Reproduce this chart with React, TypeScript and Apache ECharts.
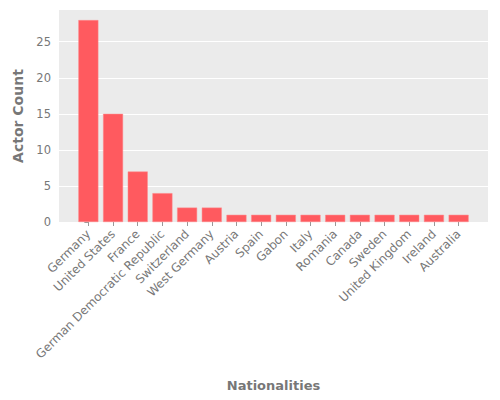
import { useEffect, useRef } from "react";
import * as echarts from "echarts";

const nationalities = [
  "Germany",
  "United States",
  "France",
  "German Democratic Republic",
  "Switzerland",
  "West Germany",
  "Austria",
  "Spain",
  "Gabon",
  "Italy",
  "Romania",
  "Canada",
  "Sweden",
  "United Kingdom",
  "Ireland",
  "Australia",
];
const actorCounts = [28, 15, 7, 4, 2, 2, 1, 1, 1, 1, 1, 1, 1, 1, 1, 1];
const yTicks = [0, 5, 10, 15, 20, 25];

export default function App() {
  const chartRef = useRef<HTMLDivElement>(null);

  useEffect(() => {
    document.body.style.margin = "0";
    if (!chartRef.current) return;
    const chart = echarts.init(chartRef.current, undefined, { renderer: "svg" });

    const positions = nationalities.map((_, i) => i);
    const n = nationalities.length;
    // matplotlib-like 5% margins around bars of width 0.8
    const span = n - 1 + 0.8;
    const xMin = -0.4 - span * 0.05;
    const xMax = n - 1 + 0.4 + span * 0.05;
    const yMax = Math.max(...actorCounts) * 1.05;

    const font = "DejaVu Sans";

    chart.setOption({
      animation: false,
      textStyle: { fontFamily: font },
      grid: {
        left: 59,
        right: 12,
        top: 10,
        bottom: 178,
        show: true,
        backgroundColor: "#ebebeb",
        borderWidth: 0,
      },
      xAxis: {
        type: "value",
        min: xMin,
        max: xMax,
        name: "Nationalities",
        nameLocation: "middle",
        nameGap: 157,
        nameTextStyle: { color: "#777", fontSize: 13, fontWeight: "bold", fontFamily: font },
        axisLine: { show: false },
        splitLine: { show: false },
        axisTick: {
          show: true,
          length: 4,
          customValues: positions,
          lineStyle: { color: "#999" },
        },
        axisLabel: {
          customValues: positions,
          rotate: 45,
          margin: 10,
          color: "#777",
          fontSize: 12,
          fontFamily: font,
          formatter: (v: number) => nationalities[Math.round(v)] ?? "",
        },
      },
      yAxis: {
        type: "value",
        min: 0,
        max: yMax,
        interval: 5,
        name: "Actor Count",
        nameLocation: "middle",
        nameGap: 31,
        nameTextStyle: { color: "#777", fontSize: 14, fontWeight: "bold", fontFamily: font },
        axisLine: { show: false },
        axisTick: {
          show: true,
          length: 4,
          customValues: yTicks,
          lineStyle: { color: "#999" },
        },
        axisLabel: {
          customValues: yTicks,
          color: "#777",
          fontSize: 11.5,
          margin: 8,
          fontFamily: font,
        },
        splitLine: { lineStyle: { color: "#ffffff", width: 1 } },
      },
      series: [
        {
          type: "bar",
          barWidth: 20,
          data: actorCounts.map((v, i) => [i, v]),
          itemStyle: { color: "#ff5a5f", borderColor: "#ff8a8d", borderWidth: 0.5 },
        },
      ],
    });

    return () => {
      chart.dispose();
    };
  }, []);

  return <div ref={chartRef} style={{ width: 500, height: 400 }} />;
}
